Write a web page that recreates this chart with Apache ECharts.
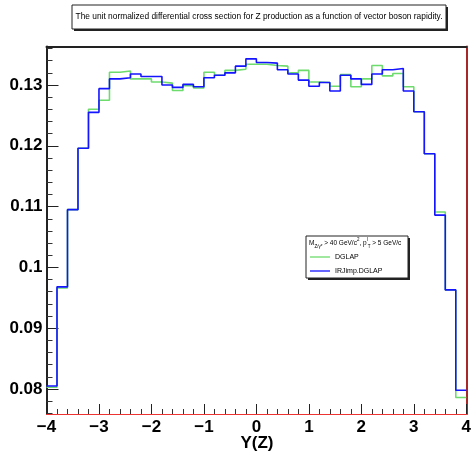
<!DOCTYPE html>
<html>
<head>
<meta charset="utf-8">
<script src="https://cdn.jsdelivr.net/npm/echarts@6/dist/echarts.min.js"></script>
<style>html,body{margin:0;padding:0;background:#fff}#c{width:474px;height:452px}</style>
</head>
<body>
<div id="c"></div>
<script>
// bin edges of Y(Z)
var binEdges = [-4.0,-3.8,-3.6,-3.4,-3.2,-3.0,-2.8,-2.6,-2.4,-2.2,-2.0,-1.8,-1.6,-1.4,-1.2,-1.0,-0.8,-0.6,-0.4,-0.2,0.0,0.2,0.4,0.6,0.8,1.0,1.2,1.4,1.6,1.8,2.0,2.2,2.4,2.6,2.8,3.0,3.2,3.4,3.6,3.8,4.0];
var dglap = [0.0803,0.0966,0.1095,0.1196,0.1260,0.1275,0.1321,0.1323,0.1310,0.1310,0.1305,0.1303,0.1291,0.1299,0.1295,0.1321,0.1316,0.1324,0.1326,0.1334,0.1334,0.1332,0.1331,0.1320,0.1324,0.1305,0.1304,0.1298,0.1317,0.1297,0.1310,0.1332,0.1315,0.1319,0.1297,0.1256,0.1187,0.1091,0.0963,0.0786];
var irjimp = [0.0805,0.0968,0.1095,0.1196,0.1255,0.1294,0.1310,0.1312,0.1318,0.1314,0.1314,0.1300,0.1296,0.1301,0.1297,0.1312,0.1316,0.1320,0.1331,0.1343,0.1337,0.1336,0.1325,0.1318,0.1308,0.1298,0.1304,0.1290,0.1316,0.1310,0.1301,0.1318,0.1325,0.1327,0.1290,0.1256,0.1187,0.1086,0.0963,0.0798];
var yMajorTicks = [0.08,0.09,0.10,0.11,0.12,0.13];
var yMinorTicks = [0.076,0.078,0.082,0.084,0.086,0.088,0.092,0.094,0.096,0.098,0.102,0.104,0.106,0.108,0.112,0.114,0.116,0.118,0.122,0.124,0.126,0.128,0.132,0.134,0.136];
var xMajorTicks = [-4,-3,-2,-1,0,1,2,3,4];
var xMinorTicks = [-3.8,-3.6,-3.4,-3.2,-2.8,-2.6,-2.4,-2.2,-1.8,-1.6,-1.4,-1.2,-0.8,-0.6,-0.4,-0.2,0.2,0.4,0.6,0.8,1.2,1.4,1.6,1.8,2.2,2.4,2.6,2.8,3.2,3.4,3.6,3.8];
var seriesNames = ['DGLAP','IRJimp.DGLAP'];
var titleText = 'The unit normalized differential cross section for Z production as a function of vector boson rapidity.';

function stepData(vals){
  var d = [];
  for (var i = 0; i < vals.length; i++) d.push([binEdges[i], vals[i]]);
  d.push([binEdges[vals.length], vals[vals.length-1]]);
  return d;
}

var yMin = 0.07589, yMax = 0.13633;
var F = 'Liberation Sans, Arial, sans-serif';
var noLine = {show: false, onZero: false};
var chart = echarts.init(document.getElementById('c'), null, {renderer:'canvas'});
chart.setOption({
  animation: false,
  backgroundColor: '#fff',
  grid: {left: 46.5, right: 5, top: 46.5, bottom: 38, containLabel: false},
  xAxis: [{
    type: 'value', min: -4, max: 4, position: 'bottom',
    axisLine: {show: true, onZero: false, lineStyle: {color: '#ee3333', width: 1}},
    axisTick: {show: true, inside: true, length: 10, customValues: xMajorTicks, lineStyle: {color: '#222', width: 1}},
    axisLabel: {margin: 5, customValues: xMajorTicks, color: '#000', fontSize: 17, fontWeight: 'bold', fontFamily: F,
      formatter: function(v){ return v < 0 ? '\u2212' + Math.abs(v) : String(v); }},
    splitLine: {show: false}
  },{
    type: 'value', min: -4, max: 4, position: 'bottom',
    axisLine: noLine,
    axisTick: {show: true, inside: true, length: 5, customValues: xMinorTicks, lineStyle: {color: '#333', width: 1}},
    axisLabel: {show: false}, splitLine: {show: false}
  },{
    type: 'value', min: -4, max: 4, position: 'top',
    axisLine: {show: true, onZero: false, lineStyle: {color: '#222', width: 2}},
    axisTick: {show: false}, axisLabel: {show: false}, splitLine: {show: false}
  }],
  yAxis: [{
    type: 'value', min: yMin, max: yMax, position: 'left',
    axisLine: {show: true, onZero: false, lineStyle: {color: '#222', width: 2}},
    axisTick: {show: true, inside: true, length: 12, customValues: yMajorTicks, lineStyle: {color: '#222', width: 1}},
    axisLabel: {show: true, margin: 4, customValues: yMajorTicks, color: '#000', fontSize: 17, fontWeight: 'bold', fontFamily: F,
      formatter: function(v){ return String(parseFloat(v.toFixed(3))); }},
    splitLine: {show: false}
  },{
    type: 'value', min: yMin, max: yMax, position: 'left',
    axisLine: noLine,
    axisTick: {show: true, inside: true, length: 6, customValues: yMinorTicks, lineStyle: {color: '#333', width: 1}},
    axisLabel: {show: false}, splitLine: {show: false}
  },{
    type: 'value', min: yMin, max: yMax, position: 'right',
    axisLine: {show: true, onZero: false, lineStyle: {color: '#a82828', width: 2}},
    axisTick: {show: false}, axisLabel: {show: false}, splitLine: {show: false}
  }],
  series: [{
    name: seriesNames[0], type: 'line', step: 'end', data: stepData(dglap),
    xAxisIndex: 0, yAxisIndex: 0, showSymbol: false, symbol: 'none',
    lineStyle: {color: '#6ddc6d', width: 1.6}, z: 3
  },{
    name: seriesNames[1], type: 'line', step: 'end', data: stepData(irjimp),
    xAxisIndex: 0, yAxisIndex: 0, showSymbol: false, symbol: 'none',
    lineStyle: {color: '#1414ff', width: 1.6}, z: 4
  }],
  graphic: [
    // title box
    {type: 'rect', shape: {x: 74, y: 7, width: 374, height: 24}, style: {fill: '#222'}, z: 10},
    {type: 'rect', shape: {x: 72, y: 5, width: 374, height: 24}, style: {fill: '#fff', stroke: '#222', lineWidth: 1}, z: 11},
    {type: 'text', x: 259, y: 17, z: 12, style: {text: titleText, fontSize: 8.4, fontFamily: F, fill: '#000', align: 'center', verticalAlign: 'middle'}},
    // legend box
    {type: 'rect', shape: {x: 308, y: 238, width: 102, height: 42}, style: {fill: '#222'}, z: 10},
    {type: 'rect', shape: {x: 306, y: 236, width: 102, height: 42}, style: {fill: '#fff', stroke: '#222', lineWidth: 1}, z: 11},
    {type: 'text', x: 309, y: 243, z: 12, style: {
      rich: {
        a: {fontSize: 6.5, fontFamily: F, fill: '#000', lineHeight: 12, verticalAlign: 'middle'},
        sub: {fontSize: 4.5, fontFamily: F, fill: '#000', lineHeight: 12, verticalAlign: 'bottom'},
        sup: {fontSize: 4.5, fontFamily: F, fill: '#000', lineHeight: 12, verticalAlign: 'top'}
      },
      text: '{a|M}{sub|Z/\u03b3*}{a| > 40 GeV/c}{sup|2}{a|, p}{sup|l}{sub|T}{a| > 5 GeV/c}',
      verticalAlign: 'middle'}},
    {type: 'line', z: 12, shape: {x1: 310, y1: 257, x2: 330, y2: 257}, style: {stroke: '#6ddc6d', lineWidth: 1.3}},
    {type: 'text', x: 335, y: 257, z: 12, style: {text: seriesNames[0], fontSize: 7, fontFamily: F, fill: '#000', verticalAlign: 'middle'}},
    {type: 'line', z: 12, shape: {x1: 310, y1: 271, x2: 330, y2: 271}, style: {stroke: '#1414ff', lineWidth: 1.3}},
    {type: 'text', x: 335, y: 271, z: 12, style: {text: seriesNames[1], fontSize: 7, fontFamily: F, fill: '#000', verticalAlign: 'middle'}},
    // x axis title
    {type: 'text', x: 257, y: 443, z: 12, style: {text: 'Y(Z)', fontSize: 17, fontWeight: 'bold', fontFamily: F, fill: '#000', align: 'center', verticalAlign: 'middle'}}
  ]
});
</script>
</body>
</html>
